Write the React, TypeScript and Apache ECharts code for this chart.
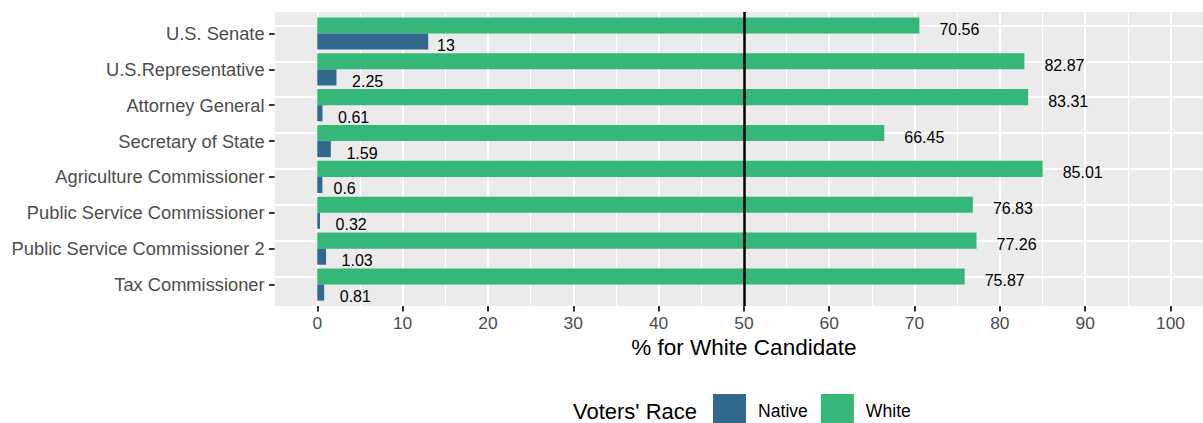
import React, { useEffect, useRef } from "react";
import * as echarts from "echarts";

const categories = [
  "U.S. Senate",
  "U.S.Representative",
  "Attorney General",
  "Secretary of State",
  "Agriculture Commissioner",
  "Public Service Commissioner",
  "Public Service Commissioner 2",
  "Tax Commissioner",
];
const whiteValues = [70.56, 82.87, 83.31, 66.45, 85.01, 76.83, 77.26, 75.87];
const nativeValues = [13, 2.25, 0.61, 1.59, 0.6, 0.32, 1.03, 0.81];
const seriesNames = ["Native", "White"];
const thresholdValue = [50];

const FONT = "'Liberation Sans', Arial, Helvetica, sans-serif";
const LABEL_SIZE = 16;

function textWidth(s: string, size: number): number {
  const c = document.createElement("canvas").getContext("2d");
  if (!c) return s.length * size * 0.55;
  c.font = `${size}px ${FONT}`;
  return c.measureText(s).width;
}

function barData(values: number[]) {
  return values.map((v) => ({
    value: v,
    label: { distance: textWidth(String(v), LABEL_SIZE) / 2 },
  }));
}

export default function App() {
  const ref = useRef<HTMLDivElement>(null);

  useEffect(() => {
    if (!ref.current) return;
    const chart = echarts.init(ref.current, undefined, { renderer: "svg" });
    const barLabel = {
      show: true,
      position: "right",
      color: "#000",
      fontSize: LABEL_SIZE,
      fontFamily: FONT,
      offset: [0, 4],
      formatter: (p: any) => String(p.value),
    };
    chart.setOption({
      animation: false,
      textStyle: { fontFamily: FONT },
      grid: [
        { left: 317.3, right: 32.5, top: 12, bottom: 117 },
        { left: 274.6, right: 0, top: 15.59, bottom: 120.59 },
        {
          left: 274.6,
          right: 0,
          top: 12,
          bottom: 117,
          show: true,
          backgroundColor: "#EBEBEB",
          borderWidth: 0,
        },
      ],
      xAxis: [
        {
          gridIndex: 0,
          type: "value",
          min: 0,
          max: 100,
          interval: 10,
          axisLine: { show: false, onZero: false },
          axisTick: { show: true, length: 5.5, lineStyle: { color: "#333333", width: 2 } },
          axisLabel: { color: "#4D4D4D", fontSize: 17.4, margin: 8, fontFamily: FONT },
          splitLine: { show: true, lineStyle: { color: "#FFFFFF", width: 2 } },
          minorTick: { show: false, splitNumber: 2 },
          minorSplitLine: { show: true, lineStyle: { color: "#FFFFFF", width: 1 } },
          name: "% for White Candidate",
          nameLocation: "middle",
          nameGap: 29.5,
          nameTextStyle: { color: "#000", fontSize: 22.5, fontFamily: FONT },
        },
        { gridIndex: 1, type: "value", min: -5, max: 103.8, show: false },
        { gridIndex: 2, type: "value", min: 0, max: 1, show: false },
      ],
      yAxis: [
        { gridIndex: 0, type: "value", min: 0, max: 1, show: false },
        {
          gridIndex: 1,
          type: "category",
          data: categories,
          inverse: true,
          axisLine: { show: false, onZero: false },
          axisTick: {
            show: true,
            alignWithLabel: true,
            length: 5.5,
            lineStyle: { color: "#333333", width: 2 },
          },
          axisLabel: { color: "#4D4D4D", fontSize: 18.3, margin: 10, fontFamily: FONT },
          splitLine: { show: false },
        },
        { gridIndex: 2, type: "value", min: 0, max: 1, show: false },
      ],
      legend: {
        data: seriesNames,
        left: 713,
        top: 394,
        padding: 0,
        orient: "horizontal",
        icon: "rect",
        itemWidth: 33,
        itemHeight: 33,
        itemGap: 13,
        selectedMode: false,
        textStyle: { color: "#000", fontSize: 17.6, fontFamily: FONT, padding: [4, 0, 0, 7] },
      },
      graphic: [
        {
          type: "text",
          left: 573,
          top: 400,
          silent: true,
          style: { text: "Voters' Race", fontSize: 22, fill: "#000", fontFamily: FONT },
        },
      ],
      series: [
        {
          name: "White",
          type: "bar",
          xAxisIndex: 1,
          yAxisIndex: 1,
          data: barData(whiteValues),
          barWidth: 16.1,
          barGap: "0%",
          itemStyle: { color: "#35B779" },
          label: barLabel,
          emphasis: { disabled: true },
          markLine: {
            silent: true,
            z: 1,
            symbol: "none",
            label: { show: false },
            emphasis: { disabled: true },
            lineStyle: { color: "#FFFFFF", width: 2, type: "solid" },
            data: categories.map((c) => ({ yAxis: c })),
          },
        },
        {
          name: "Native",
          type: "bar",
          xAxisIndex: 1,
          yAxisIndex: 1,
          data: barData(nativeValues),
          barWidth: 16.1,
          barGap: "0%",
          itemStyle: { color: "#31688E" },
          label: barLabel,
          emphasis: { disabled: true },
        },
        {
          type: "line",
          xAxisIndex: 0,
          yAxisIndex: 0,
          data: [],
          silent: true,
          markLine: {
            silent: true,
            z: 10,
            symbol: "none",
            label: { show: false },
            emphasis: { disabled: true },
            lineStyle: { color: "#000000", width: 2.5, type: "solid" },
            data: thresholdValue.map((v) => ({ xAxis: v })),
          },
        },
      ],
    });
    return () => chart.dispose();
  }, []);

  return (
    <div
      ref={ref}
      style={{ position: "absolute", left: 0, top: 0, width: 1203, height: 423 }}
    />
  );
}
